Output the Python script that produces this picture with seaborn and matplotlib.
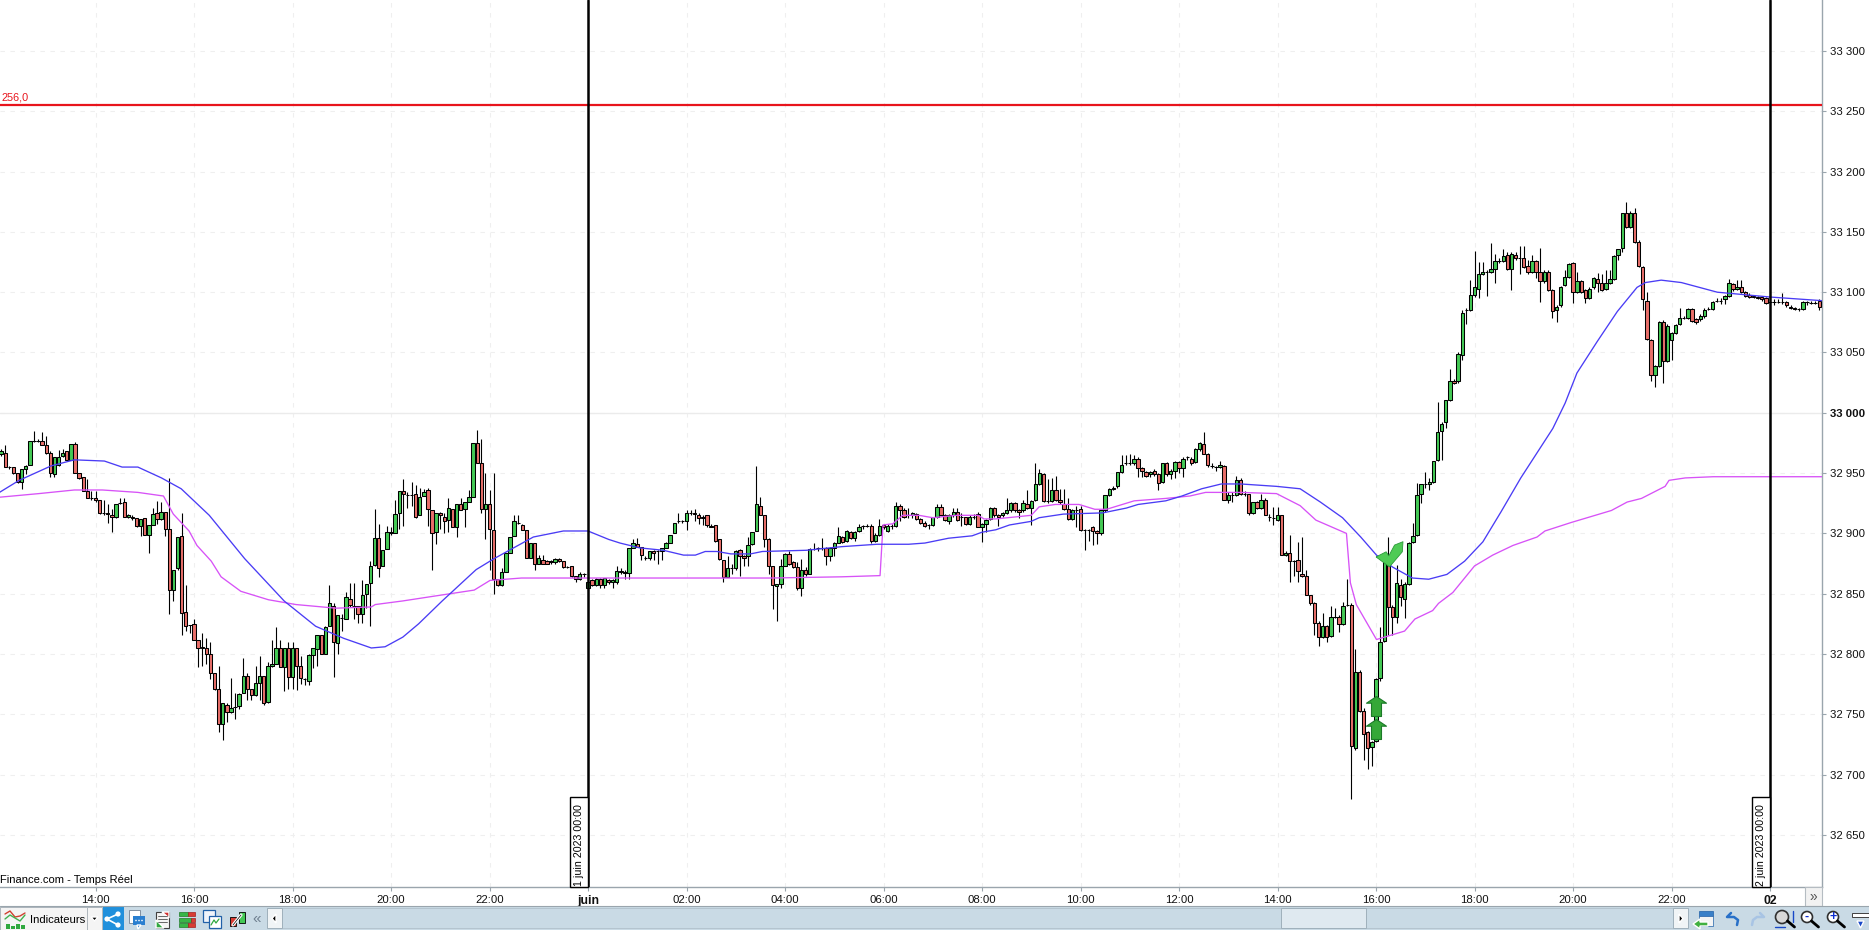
# -*- coding: utf-8 -*-
"""5-minute candlestick screenshot, redrawn with seaborn and matplotlib."""
import matplotlib

matplotlib.use("Agg")

import numpy as np
import pandas as pd
import matplotlib.pyplot as plt
import seaborn as sns
from matplotlib.patches import Circle, Polygon, Rectangle
from matplotlib.path import Path

# ------------------------------------------------------------------
# Data (prices); candle 0 sits 143 bars before midnight
# ------------------------------------------------------------------
opens = [
    32966,32967,32955,32955,32950,32943,32953,32957,32977,32977,
    32977,32973,32967,32949,32957,32964,32968,32961,32974,32950,
    32947,32935,32929,32929,32928,32917,32917,32915,32914,32925,
    32926,32914,32914,32913,32906,32913,32899,32907,32917,32912,
    32918,32904,32853,32871,32898,32835,32824,32825,32812,32806,
    32805,32800,32784,32771,32742,32758,32752,32756,32757,32768,
    32782,32771,32766,32776,32782,32760,32790,32792,32805,32789,
    32805,32781,32805,32790,32779,32778,32799,32804,32816,32800,
    32823,32840,32809,32830,32829,32846,32840,32840,32833,32850,
    32859,32874,32896,32873,32887,32900,32900,32917,32935,32932,
    32932,32933,32915,32931,32936,32919,32901,32917,32914,32911,
    32920,32905,32924,32920,32926,32930,32975,32958,32920,32924,
    32903,32862,32857,32868,32884,32898,32909,32907,32903,32880,
    32892,32875,32878,32877,32876,32876,32879,32877,32872,32873,
    32865,32862,32866,32855,32861,32857,32862,32857,32861,32860,
    32860,
    32869,32868,32867,32888,32891,32889,32880,32880,32885,32885,
    32885,32888,32892,32900,32910,32910,32910,32917,32917,32915,
    32914,32915,32906,32907,32895,32878,32864,32871,32871,32886,
    32881,32881,32891,32902,32923,32915,32895,32873,32856,32858,
    32873,32883,32876,32872,32855,32870,32866,32887,32888,32888,
    32888,32881,32888,32892,32897,32894,32901,32896,32902,32906,
    32906,32906,32894,32899,32907,32902,32906,32906,32923,32919,
    32915,32915,32916,32912,32909,32907,32907,32914,32922,32915,
    32910,32915,32918,32914,32914,32908,32914,32916,32905,32908,
    32912,32921,32915,32915,32917,32919,32925,32919,32919,32924,
    32921,32928,32941,32949,32927,32927,32936,32928,32924,32920,
    32912,32919,32920,32903,32903,32905,32902,32900,32919,32932,
    32937,32939,32951,32958,32958,32958,32962,32954,32951,32949,
    32952,32949,32943,32958,32949,32952,32959,32954,32963,32962,
    32959,32970,32974,32966,32956,32955,32955,32956,32928,32932,32932,
    32944,32933,32933,32917,32926,32921,32928,32914,32913,32911,
    32915,32882,32884,32877,32878,32866,32865,32849,32842,32826,
    32814,32823,32815,32831,32831,32825,32841,32841,32722,32785,
    32753,32735,32723,32728,32780,32811,32874,32839,32831,32857,
    32846,32858,32893,32899,32933,32941,32941,32943,32961,32985,
    32992,33011,33026,33026,33048,33085,33085,33098,33103,33115,
    33117,33117,33119,33126,33126,33131,33119,33131,33128,33128,
    33122,33117,33126,33117,33109,33117,33102,33085,33089,33106,
    33113,33124,33100,33109,33102,33095,33104,33111,33108,33103,
    33108,33111,33131,33137,33166,33154,33166,33142,33121,33093,
    33060,33031,33039,33075,33043,33060,33066,33074,33079,33079,
    33086,33078,33078,33080,33086,33086,33093,33093,33094,33097,
    33107,33103,33104,33100,33098,33097,33096,33096,33095,33092,
    33092,33092,33092,33092,33088,33087,33086,33086,33092,33091,
    33091,33093,
]
closes = [
    32968,32955,32955,32950,32943,32953,32956,32977,32977,32977,
    32973,32967,32950,32963,32963,32967,32961,32974,32950,32946,
    32935,32929,32929,32928,32917,32917,32916,32914,32924,32925,
    32914,32915,32913,32906,32912,32899,32907,32916,32912,32918,
    32904,32853,32870,32897,32834,32823,32824,32812,32805,32805,
    32800,32784,32771,32742,32759,32752,32755,32756,32767,32782,
    32771,32766,32776,32782,32759,32790,32792,32805,32789,32805,
    32781,32805,32790,32780,32779,32799,32805,32816,32800,32822,
    32842,32810,32832,32830,32847,32841,32840,32833,32849,32858,
    32873,32896,32871,32886,32901,32901,32916,32935,32933,32932,
    32932,32914,32930,32934,32920,32900,32917,32915,32910,32921,
    32905,32924,32919,32926,32930,32975,32958,32920,32924,32904,
    32862,32857,32868,32884,32897,32910,32909,32903,32880,32892,
    32875,32880,32875,32875,32877,32879,32877,32872,32872,32865,
    32862,32866,32866,32860,32857,32862,32857,32863,32860,32861,
    32869,
    32868,32867,32888,32892,32889,32882,32880,32885,32884,32885,
    32888,32892,32899,32909,32910,32910,32917,32917,32916,32913,
    32913,32907,32905,32894,32879,32864,32871,32871,32885,32881,
    32880,32890,32901,32924,32915,32895,32873,32857,32858,32873,
    32883,32875,32872,32855,32870,32866,32887,32887,32888,32888,
    32881,32888,32892,32898,32893,32902,32896,32901,32905,32906,
    32906,32894,32899,32906,32905,32906,32906,32923,32919,32914,
    32915,32917,32912,32909,32906,32907,32914,32922,32915,32911,
    32915,32918,32911,32914,32908,32914,32914,32905,32908,32911,
    32921,32915,32914,32917,32919,32925,32919,32918,32925,32921,
    32927,32941,32950,32927,32927,32936,32928,32926,32920,32912,
    32919,32919,32903,32903,32903,32902,32900,32919,32932,32937,
    32938,32951,32957,32958,32958,32962,32954,32952,32948,32951,
    32949,32942,32958,32949,32952,32959,32954,32962,32963,32958,
    32970,32975,32966,32957,32956,32955,32957,32928,32932,32932,32944,
    32933,32933,32917,32926,32921,32928,32915,32914,32913,32915,
    32882,32884,32877,32877,32869,32865,32849,32842,32826,32814,
    32823,32814,32831,32831,32825,32840,32841,32724,32785,32753,
    32734,32722,32727,32779,32810,32876,32839,32831,32859,32847,
    32858,32892,32898,32932,32941,32941,32943,32960,32984,32991,
    33011,33026,33025,33049,33083,33085,33098,33104,33115,33117,
    33117,33119,33126,33126,33130,33119,33132,33128,33128,33121,
    33117,33126,33117,33109,33117,33102,33084,33088,33104,33113,
    33123,33100,33109,33100,33095,33103,33112,33108,33102,33108,
    33111,33130,33136,33166,33154,33166,33142,33122,33094,33061,
    33031,33039,33075,33043,33072,33066,33073,33079,33079,33086,
    33076,33075,33080,33085,33086,33092,33093,33093,33097,33108,
    33103,33104,33100,33097,33096,33096,33095,33094,33091,33092,
    33092,33092,33092,33089,33087,33086,33086,33092,33092,33091,
    33091,33088,
]
highs = [
    32970,32973,32956,32955,32950,32953,32957,32977,32985,32978,
    32984,32981,32968,32963,32969,32970,32968,32974,32976,32950,
    32947,32945,32935,32935,32928,32928,32924,32920,32924,32929,
    32929,32916,32915,32913,32912,32913,32907,32921,32927,32926,
    32918,32946,32870,32897,32917,32857,32824,32829,32812,32817,
    32813,32810,32784,32790,32759,32759,32780,32768,32768,32797,
    32784,32771,32790,32798,32782,32793,32812,32822,32812,32805,
    32810,32810,32805,32798,32780,32800,32805,32816,32816,32823,
    32857,32842,32832,32833,32851,32859,32859,32840,32861,32858,
    32877,32920,32908,32886,32906,32905,32928,32935,32945,32934,
    32943,32940,32938,32937,32938,32919,32917,32918,32917,32929,
    32920,32924,32929,32926,32936,32975,32986,32978,32950,32936,
    32950,32862,32871,32884,32897,32915,32915,32908,32903,32892,
    32892,32882,32882,32878,32878,32880,32880,32877,32873,32873,
    32865,32868,32867,32861,32862,32863,32863,32863,32862,32862,
    32873,
    32871,32870,32888,32895,32896,32889,32881,32885,32886,32886,
    32888,32893,32899,32909,32917,32911,32919,32919,32920,32917,
    32915,32915,32908,32907,32895,32878,32881,32875,32886,32887,
    32882,32897,32901,32956,32930,32915,32896,32873,32858,32879,
    32884,32885,32877,32876,32879,32872,32888,32892,32889,32896,
    32889,32889,32893,32905,32898,32903,32902,32902,32908,32907,
    32908,32908,32900,32912,32908,32908,32908,32926,32924,32921,
    32921,32918,32917,32913,32910,32908,32914,32924,32924,32916,
    32916,32921,32921,32917,32914,32915,32916,32918,32909,32912,
    32922,32922,32916,32918,32929,32926,32926,32920,32928,32936,
    32928,32958,32953,32950,32945,32946,32948,32937,32937,32929,
    32920,32923,32923,32904,32904,32906,32903,32919,32932,32938,
    32939,32951,32965,32965,32966,32965,32963,32955,32952,32952,
    32953,32950,32958,32959,32953,32960,32960,32963,32964,32963,
    32971,32976,32984,32967,32958,32956,32960,32957,32934,32934,32948,
    32946,32935,32933,32926,32927,32933,32929,32916,32922,32922,
    32915,32885,32899,32878,32893,32897,32870,32849,32843,32827,
    32834,32824,32840,32838,32832,32843,32862,32842,32804,32787,
    32755,32736,32728,32780,32822,32878,32897,32841,32874,32862,
    32860,32893,32909,32942,32941,32951,32946,32960,33009,32992,
    33011,33036,33028,33050,33085,33087,33110,33134,33125,33125,
    33118,33141,33132,33128,33136,33133,33133,33133,33138,33138,
    33127,33131,33127,33137,33118,33118,33103,33089,33105,33118,
    33124,33125,33117,33110,33103,33104,33113,33116,33115,33118,
    33118,33131,33136,33166,33175,33167,33170,33143,33122,33100,
    33061,33040,33076,33077,33074,33067,33074,33087,33080,33087,
    33087,33079,33082,33087,33088,33093,33095,33095,33098,33111,
    33108,33110,33110,33101,33099,33098,33097,33097,33096,33094,
    33094,33094,33099,33093,33089,33088,33087,33093,33093,33093,
    33093,33094,
]
lows = [
    32964,32955,32953,32949,32942,32937,32949,32957,32976,32976,
    32973,32966,32947,32947,32956,32963,32960,32961,32950,32945,
    32935,32929,32928,32926,32916,32915,32909,32901,32913,32924,
    32914,32913,32911,32905,32898,32899,32884,32907,32908,32911,
    32898,32833,32844,32870,32816,32819,32817,32812,32789,32790,
    32792,32779,32770,32735,32729,32744,32751,32746,32754,32768,
    32762,32762,32765,32762,32758,32759,32789,32792,32789,32769,
    32771,32771,32770,32775,32774,32774,32788,32790,32800,32800,
    32823,32781,32800,32819,32829,32839,32829,32826,32826,32838,
    32823,32873,32864,32873,32887,32899,32900,32904,32906,32921,
    32923,32913,32915,32931,32906,32870,32891,32904,32900,32901,
    32905,32897,32919,32905,32926,32930,32958,32917,32895,32870,
    32850,32856,32856,32868,32884,32898,32908,32903,32880,32880,
    32870,32875,32875,32875,32875,32875,32876,32871,32871,32864,
    32860,32861,32864,32853,32856,32856,32855,32855,32858,32855,
    32858,
    32866,32862,32862,32888,32889,32878,32878,32878,32878,32875,
    32878,32888,32892,32900,32909,32909,32903,32915,32910,32908,
    32907,32905,32905,32893,32878,32860,32864,32866,32870,32865,
    32873,32873,32890,32902,32915,32889,32866,32837,32827,32855,
    32873,32874,32871,32853,32848,32865,32866,32886,32885,32886,
    32874,32877,32881,32892,32892,32893,32895,32894,32901,32904,
    32905,32892,32893,32898,32904,32901,32904,32905,32910,32913,
    32913,32913,32911,32908,32905,32904,32906,32913,32915,32910,
    32908,32914,32910,32906,32907,32907,32912,32905,32893,32901,
    32911,32914,32906,32914,32916,32918,32918,32913,32918,32920,
    32907,32927,32940,32926,32925,32926,32927,32924,32919,32911,
    32911,32905,32902,32886,32894,32890,32891,32899,32918,32931,
    32936,32938,32950,32957,32957,32957,32947,32947,32947,32947,
    32948,32936,32942,32948,32945,32946,32950,32947,32961,32957,
    32958,32968,32966,32955,32954,32952,32954,32928,32925,32926,32931,
    32932,32931,32915,32916,32920,32920,32915,32910,32907,32910,
    32882,32881,32860,32865,32860,32864,32849,32841,32816,32807,
    32813,32810,32814,32830,32818,32824,32840,32680,32720,32752,
    32712,32705,32707,32727,32778,32810,32816,32816,32826,32840,
    32830,32857,32892,32898,32925,32938,32936,32942,32960,32961,
    32987,33010,33024,33025,33044,33074,33084,33096,33095,33114,
    33097,33116,33108,33124,33125,33118,33102,33127,33115,33120,
    33115,33116,33112,33092,33108,33101,33079,33075,33088,33105,
    33112,33091,33099,33099,33091,33094,33103,33100,33101,33102,
    33107,33110,33127,33133,33153,33153,33141,33121,33085,33060,
    33026,33021,33038,33025,33042,33044,33065,33073,33078,33078,
    33075,33074,33076,33079,33085,33085,33092,33090,33090,33096,
    33101,33102,33099,33096,33095,33095,33094,33093,33090,33090,
    33089,33091,33090,33088,33086,33085,33084,33085,33089,33090,
    33090,33085,
]

# Moving averages: hours from 1 June 00:00, price
blue_hours = [
    -11.95,-11.55,-10.9,-10.43,-9.82,-9.46,-9.14,-8.66,-8.26,-7.69,-6.97,-6.17,
    -5.53,-4.96,-4.4,-4.12,-3.76,-3.44,-2.96,-2.43,-2.27,-1.91,-1.51,-1.11,-0.5,0,
    0.42,0.65,1.05,1.53,1.94,2.18,2.38,2.62,2.9,3.3,3.54,4.43,5.15,5.87,6.51,6.84,
    7.32,7.8,8.0,8.28,8.56,9.0,9.16,9.65,10.45,10.93,11.17,11.73,12.06,12.46,12.86,
    13.25,13.98,14.46,14.87,15.32,15.69,16.01,16.34,16.74,17.07,17.44,17.8,18.17,
    18.54,18.94,19.59,19.84,20.08,20.49,20.9,21.3,21.47,21.79,22.2,22.93,24,25.05,
]
blue_prices = [
    32934,32944,32956,32961,32960,32955,32955,32946,32937,32915,32879,32844,
    32823,32813,32805,32806,32814,32825,32844,32864,32870,32879,32888,32897,32902,32902,
    32895,32892,32888,32886,32882,32882,32885,32885,32883,32883,32885,32886,32889,32891,32891,32892,
    32896,32898,32901,32903,32907,32910,32913,32916,32917,32921,32924,32927,32931,32937,32941,
    32941,32939,32937,32926,32913,32897,32882,32872,32863,32862,32866,32877,32893,
    32918,32946,32987,33008,33033,33059,33084,33104,33108,33110,33108,33100,33096,33093,
]
magenta_hours = [
    -11.95,-11.15,-10.43,-9.86,-9.14,-8.62,-8.42,-8.1,-7.94,-7.65,-7.45,-7.05,-6.49,
    -5.93,-5.12,-4.4,-4.32,-3.76,-3.12,-2.31,-1.99,-1.35,0,3.7,5.15,5.93,5.99,6.19,
    6.39,6.72,7.0,7.48,7.92,8.04,8.28,9.0,9.16,9.49,9.97,10.29,10.53,11.09,11.73,
    12.22,12.54,13.25,13.98,14.46,14.78,15.4,15.48,15.6,16.01,16.58,16.79,17.15,
    17.27,17.56,18.0,18.37,18.78,19.27,19.43,19.96,20.78,21.1,21.39,21.87,21.95,
    22.28,22.85,25.05,
]
magenta_prices = [
    32930,32933,32936,32936,32934,32931,32916,32902,32890,32877,32864,32852,32845,
    32841,32838,32839,32841,32844,32848,32853,32861,32863,32863,32863,32864,32865,32907,32908,
    32915,32915,32913,32915,32915,32912,32912,32915,32922,32924,32924,32920,32920,32927,32929,
    32931,32934,32934,32933,32923,32911,32900,32859,32841,32812,32819,32829,32836,
    32842,32851,32873,32882,32890,32897,32902,32909,32919,32926,32929,32939,32944,
    32946,32947,32947,
]

# Buy signals: hours, price
arrow_hours = [16.01, 16.01]
arrow_prices = [32757, 32738]
check_hours = [16.26]
check_prices = [32883]

level_price = 33255
level_label = "256,0"
session_hours = [0, 24]
session_labels = ["1 juin 2023 00:00", "2 juin 2023 00:00"]

y_ticks = [32650, 32700, 32750, 32800, 32850, 32900, 32950,
           33000, 33050, 33100, 33150, 33200, 33250, 33300]
x_ticks = [-10, -8, -6, -4, -2, 0, 2, 4, 6, 8, 10, 12, 14, 16, 18, 20, 22, 24]
x_tick_labels = ["14:00", "16:00", "18:00", "20:00", "22:00", "juin",
                 "02:00", "04:00", "06:00", "08:00", "10:00", "12:00",
                 "14:00", "16:00", "18:00", "20:00", "22:00", "02"]

WIDTH, HEIGHT = 1869, 930
AXIS_RIGHT, AXIS_BOTTOM = 1822, 887
GREEN, RED = "#44c955", "#e86f6a"

sns.set_theme(style="white")
plt.rcParams["font.family"] = ["Liberation Sans", "DejaVu Sans"]


def main() -> None:
    fig = plt.figure(figsize=(WIDTH / 100, HEIGHT / 100), dpi=100, facecolor="white")
    ax = fig.add_axes([0, 1 - AXIS_BOTTOM / HEIGHT, AXIS_RIGHT / WIDTH, AXIS_BOTTOM / HEIGHT])

    candles = pd.DataFrame({"open": opens, "close": closes, "high": highs, "low": lows})
    candles["hour"] = (np.arange(len(candles)) - 143) / 12
    up = candles[candles["close"] >= candles["open"]]
    down = candles[candles["close"] < candles["open"]]

    # ------------------------------------------------------------------
    # Candles
    # ------------------------------------------------------------------
    ax.vlines(candles["hour"], candles["low"], candles["high"], color="black", lw=0.8, zorder=2)
    for part, colour in ((up, GREEN), (down, RED)):
        ax.bar(part["hour"], part["close"] - part["open"], bottom=part["open"],
               width=0.068, color=colour, edgecolor="black", linewidth=0.75, zorder=3)

    # ------------------------------------------------------------------
    # Moving averages and markers
    # ------------------------------------------------------------------
    blue = pd.DataFrame({"hour": blue_hours, "price": blue_prices})
    magenta = pd.DataFrame({"hour": magenta_hours, "price": magenta_prices})
    sns.lineplot(data=magenta, x="hour", y="price", ax=ax, color="#d752f7", lw=0.95,
                 estimator=None, sort=False, zorder=4)
    sns.lineplot(data=blue, x="hour", y="price", ax=ax, color="#4a3cf5", lw=0.95,
                 estimator=None, sort=False, zorder=4)

    arrow = Path([(0, 1), (1, 0.33), (0.5, 0.33), (0.5, -1), (-0.5, -1), (-0.5, 0.33), (-1, 0.33), (0, 1)])
    ax.scatter(arrow_hours, arrow_prices, marker=arrow, s=207, color="#35a838",
               edgecolor="#1c7a28", linewidth=0.8, zorder=6)
    check = Path([(-1, -0.18), (-0.25, 0.2), (-0.05, -0.1), (0.375, 0.7), (1, 0.95), (0.95, 0.2),
                  (0, -0.92), (-1, -0.18)])
    ax.scatter(check_hours, check_prices, marker=check, s=377, color="#4fcb55",
               edgecolor="#2a9a38", linewidth=0.6, zorder=6)

    ax.axhline(level_price, color="#e8141c", lw=1.6, zorder=5)
    for hour in session_hours:
        ax.axvline(hour, color="black", lw=1.8, zorder=7)

    # ------------------------------------------------------------------
    # Axes
    # ------------------------------------------------------------------
    ax.set_xlim(-588 / 49.25, (AXIS_RIGHT - 588) / 49.25)
    ax.set_ylim(33300 - (AXIS_BOTTOM - 51) / 1.206, 33300 + 51 / 1.206)
    ax.set_xlabel("")
    ax.set_ylabel("")
    ax.yaxis.tick_right()
    ax.set_yticks(y_ticks)
    ax.set_yticklabels([f"{t // 1000} {t % 1000:03d}" for t in y_ticks], fontsize=8.2, color="#111111")
    ax.set_xticks(x_ticks)
    ax.set_xticklabels(x_tick_labels, fontsize=8.2, color="#111111")
    ax.tick_params(axis="both", length=3, width=0.8, color="#9aa5ad", pad=2.5,
                   bottom=True, right=True)
    for label in ax.get_yticklabels():
        if label.get_text() == "33 000":
            label.set_fontweight("bold")
    for label in ax.get_xticklabels():
        if label.get_text() in ("juin", "02"):
            label.set_fontweight("bold")
            label.set_fontsize(8.8)

    ax.grid(True, color="#efefef", lw=0.8, ls=(0, (4, 5)), zorder=0)
    ax.axhline(33000, color="#ebebeb", lw=1.0, zorder=1)
    for side in ("top", "left"):
        ax.spines[side].set_visible(False)
    for side in ("bottom", "right"):
        ax.spines[side].set_color("#9aa5ad")
        ax.spines[side].set_linewidth(1.0)

    # ------------------------------------------------------------------
    # Window furniture, in screen pixels
    # ------------------------------------------------------------------
    ui = fig.add_axes([0, 0, 1, 1], facecolor="none", zorder=10)
    ui.set_xlim(0, WIDTH)
    ui.set_ylim(HEIGHT, 0)
    ui.axis("off")

    ui.text(2, 97, level_label, color="#e8141c", fontsize=7.8, va="center")
    ui.text(0, 880, "Finance.com - Temps Réel", color="black", fontsize=8, va="center")

    for hour, text in zip(session_hours, session_labels):
        right = 588 + hour * 49.25
        ui.add_patch(Rectangle((right - 18, 797), 18, AXIS_BOTTOM - 797, fc="white", ec="black", lw=1))
        ui.text(right - 8.5, 845, text, rotation=90, fontsize=7.7, ha="center", va="center", color="black")

    ui.add_patch(Rectangle((1805, 887), 17, 19, fc="#f2f2f2", ec="#b5bcc2", lw=0.8))
    ui.text(1813.5, 896.5, "»", fontsize=10, ha="center", va="center", color="#555555")

    # bottom toolbar
    ui.add_patch(Rectangle((0, 906), WIDTH, 24, fc="#c9dae5", ec="none"))
    ui.plot([0, WIDTH], [906, 906], color="#9aa5ad", lw=0.8)
    ui.add_patch(Rectangle((0, 907), 87, 23, fc="#f4f4f4", ec="#aeb7bd", lw=0.7))
    ui.add_patch(Rectangle((87, 907), 15, 23, fc="#f4f4f4", ec="#aeb7bd", lw=0.7))
    ui.add_patch(Polygon([(91, 917), (98, 917), (94.5, 921)], fc="black"))
    ui.text(30, 920, "Indicateurs", fontsize=8.1, va="center", color="black")
    # indicator icon
    ui.plot([5, 10, 15, 20, 25], [914, 911, 917, 916, 913], color="#d04030", lw=1)
    ui.plot([5, 10, 15, 20, 25], [919, 915, 918, 921, 915], color="#40b050", lw=1)
    for left, top in ((6, 924), (11, 926), (16, 924), (21, 925)):
        ui.add_patch(Rectangle((left, top), 4, 929 - top, fc="#2fa83f", ec="none"))
    # share button
    ui.add_patch(Rectangle((103, 907), 21, 23, fc="#2090dc", ec="none"))
    for cx, cy in ((107, 919), (118, 914), (118, 925)):
        ui.add_patch(Circle((cx, cy), 2.6, fc="white", ec="none"))
    ui.plot([118, 107, 118], [914, 919, 925], color="white", lw=1.2)
    # small tool icons
    ui.add_patch(Rectangle((129, 910), 11, 13, fc="white", ec="#8090a0", lw=0.7))
    ui.add_patch(Rectangle((133, 916), 12, 9, fc="#2a7fd0", ec="none"))
    ui.add_patch(Polygon([(137, 925), (141, 925), (138, 929)], fc="#2a7fd0"))
    for cx in (136, 139, 142):
        ui.add_patch(Circle((cx, 920.5), 0.8, fc="white", ec="none"))
    ui.add_patch(Rectangle((156, 912), 13, 16, fc="#f4f4f4", ec="#404040", lw=0.8))
    ui.add_patch(Polygon([(156, 928), (164, 928), (156, 920)], fc="#30a840"))
    ui.add_patch(Polygon([(169, 912), (162, 912), (169, 918)], fc="#d03030"))
    for row in (916, 919, 922):
        ui.plot([158, 167], [row, row], color="#505050", lw=0.6)
    for row, shift in ((912, 0), (918, 3), (923, 0)):
        ui.add_patch(Rectangle((179, row), 9 + shift, 4, fc="#38b548", ec="#1f7a28", lw=0.5))
        ui.add_patch(Rectangle((188 + shift, row), 7 - shift, 4, fc="#d83c34", ec="#a02020", lw=0.5))
    ui.add_patch(Rectangle((203, 910), 12, 12, fc="#f0f4fa", ec="#2060a8", lw=0.9))
    ui.add_patch(Rectangle((209, 916), 12, 12, fc="white", ec="#2060a8", lw=0.9))
    ui.plot([211, 214, 216, 219], [925, 920, 923, 919], color="#30a840", lw=0.9)
    ui.add_patch(Rectangle((230, 917), 6, 9, fc="#d83c34", ec="black", lw=0.6))
    ui.add_patch(Rectangle((239, 912), 6, 11, fc="#44c955", ec="black", lw=0.6))
    ui.plot([233, 241], [925, 915], color="white", lw=2.2)
    ui.plot([233, 241], [925, 915], color="black", lw=0.5)
    ui.text(257, 919, "«", fontsize=11, ha="center", va="center", color="#708090")

    # scrollbar
    ui.add_patch(Rectangle((267, 908), 1421, 20, fc="#c9dae5", ec="#b4c4cf", lw=0.7))
    ui.add_patch(Rectangle((267, 908), 15, 20, fc="#f0f4f6", ec="#9fb0bb", lw=0.7))
    ui.add_patch(Polygon([(276, 914), (276, 923), (272, 918.5)], fc="black"))
    ui.add_patch(Rectangle((1281, 908), 85, 20, fc="#dfe9f0", ec="#9fb0bb", lw=0.7))
    ui.add_patch(Rectangle((1673, 908), 15, 20, fc="#f0f4f6", ec="#9fb0bb", lw=0.7))
    ui.add_patch(Polygon([(1679, 914), (1679, 923), (1683, 918.5)], fc="black"))

    # right-hand icons
    ui.add_patch(Rectangle((1699, 911), 14, 5, fc="#3a80c8", ec="#2060a8", lw=0.5))
    ui.add_patch(Rectangle((1699, 916), 14, 10, fc="#f4f4f4", ec="#2060a8", lw=0.5))
    ui.add_patch(Polygon([(1693, 924), (1700, 919), (1700, 922), (1708, 922),
                          (1708, 926), (1700, 926), (1700, 929)], fc="#40b040"))
    ui.plot([1737, 1738, 1734, 1727, 1731], [925, 920, 917, 917, 913], color="#2870c8", lw=1.8)
    ui.plot([1752, 1753, 1757, 1764, 1760], [925, 920, 917, 917, 913], color="#a8c4e4", lw=1.8)
    for cx, radius, inner in ((1782, 6.5, None), (1807, 5.5, "-"), (1833, 5.5, "+")):
        ui.add_patch(Circle((cx, 917), radius, fc="#d8d8d8" if inner is None else "white",
                            ec="#303030", lw=1.2))
        ui.plot([cx + radius - 1, cx + radius + 6], [921, 927], color="black", lw=2)
        if inner:
            ui.text(cx, 916.5, inner, fontsize=9, fontweight="bold", ha="center", va="center", color="#1030d0")
    ui.plot([1793, 1793], [911, 922], color="#1848c8", lw=1)
    ui.plot([1775, 1785], [927, 927], color="#1848c8", lw=1)
    ui.add_patch(Rectangle((1852, 913), 17, 4, fc="white", ec="#404040", lw=0.7))
    ui.add_patch(Polygon([(1857, 921), (1864, 921), (1860.5, 928)], fc="#1848c8"))

    fig.savefig("out.png", dpi=100)
    plt.close("all")


if __name__ == "__main__":
    main()
